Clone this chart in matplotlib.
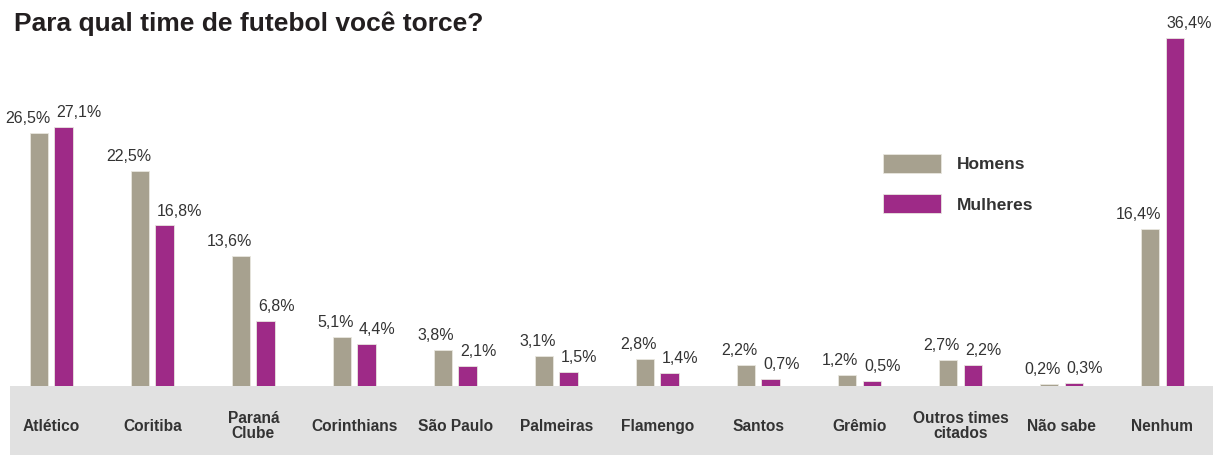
import matplotlib.pyplot as plt
import numpy as np
from matplotlib.patches import Rectangle

plt.rcParams['font.family'] = ['Liberation Sans', 'DejaVu Sans']

# Data
teams = ['Atlético', 'Coritiba', 'Paraná\nClube', 'Corinthians', 'São Paulo',
         'Palmeiras', 'Flamengo', 'Santos', 'Grêmio', 'Outros times\ncitados',
         'Não sabe', 'Nenhum']
homens = [26.5, 22.5, 13.6, 5.1, 3.8, 3.1, 2.8, 2.2, 1.2, 2.7, 0.2, 16.4]
mulheres = [27.1, 16.8, 6.8, 4.4, 2.1, 1.5, 1.4, 0.7, 0.5, 2.2, 0.3, 36.4]

gray_color = '#a7a18f'
purple_color = '#9e2a87'
band_color = '#e1e1e1'
text_color = '#333333'

W, H = 1216, 455
fig = plt.figure(figsize=(W / 100, H / 100), dpi=100)

# gray band under the bars
fig.patches.append(Rectangle((10 / W, 0), (1213 - 10) / W, (455 - 386) / H,
                             transform=fig.transFigure, facecolor=band_color,
                             edgecolor='none', zorder=0))

ax = fig.add_axes([10 / W, (455 - 386) / H, (1213 - 10) / W, 386 / H])
ax.set_zorder(2)
ax.patch.set_alpha(0)

x = np.arange(len(teams))
bw = 0.18
off = 0.12
ax.bar(x - off, homens, bw, color=gray_color, edgecolor='#e8e6df', linewidth=0.6, label='Homens')
ax.bar(x + off, mulheres, bw, color=purple_color, edgecolor='#e8e6df', linewidth=0.6, label='Mulheres')

ax.set_xlim(-0.41, len(teams) - 1 + 0.5)
ax.set_ylim(0, 40.4)
ax.axis('off')

def fmt(v):
    return f'{v:.1f}%'.replace('.', ',')

for i in range(len(teams)):
    ax.annotate(fmt(homens[i]), (x[i] - off + bw / 2, homens[i]),
                xytext=(1.5, 5), textcoords='offset points', ha='right', va='bottom',
                fontsize=11.5, color=text_color)
    ax.annotate(fmt(mulheres[i]), (x[i] + off - bw / 2, mulheres[i]),
                xytext=(1, 5), textcoords='offset points', ha='left', va='bottom',
                fontsize=11.5, color=text_color)
    ax.annotate(teams[i], (x[i], 0), xytext=(0, -29), textcoords='offset points',
                ha='center', va='center', fontsize=11.2, fontweight='bold',
                color=text_color, linespacing=1.0, annotation_clip=False)

fig.text(14 / W, 1 - 24 / H, 'Para qual time de futebol você torce?',
         fontsize=19, fontweight='bold', color='#231f20', ha='left', va='center')

leg = ax.legend(loc='upper left', bbox_to_anchor=(874 / W, 1 - 145 / H),
                bbox_transform=fig.transFigure, frameon=False, borderpad=0,
                handlelength=3.35, handleheight=1.3, handletextpad=0.95,
                labelspacing=1.25, prop={'size': 12.5, 'weight': 'bold'})
for t in leg.get_texts():
    t.set_color(text_color)

fig.savefig('out.png', dpi=100)
